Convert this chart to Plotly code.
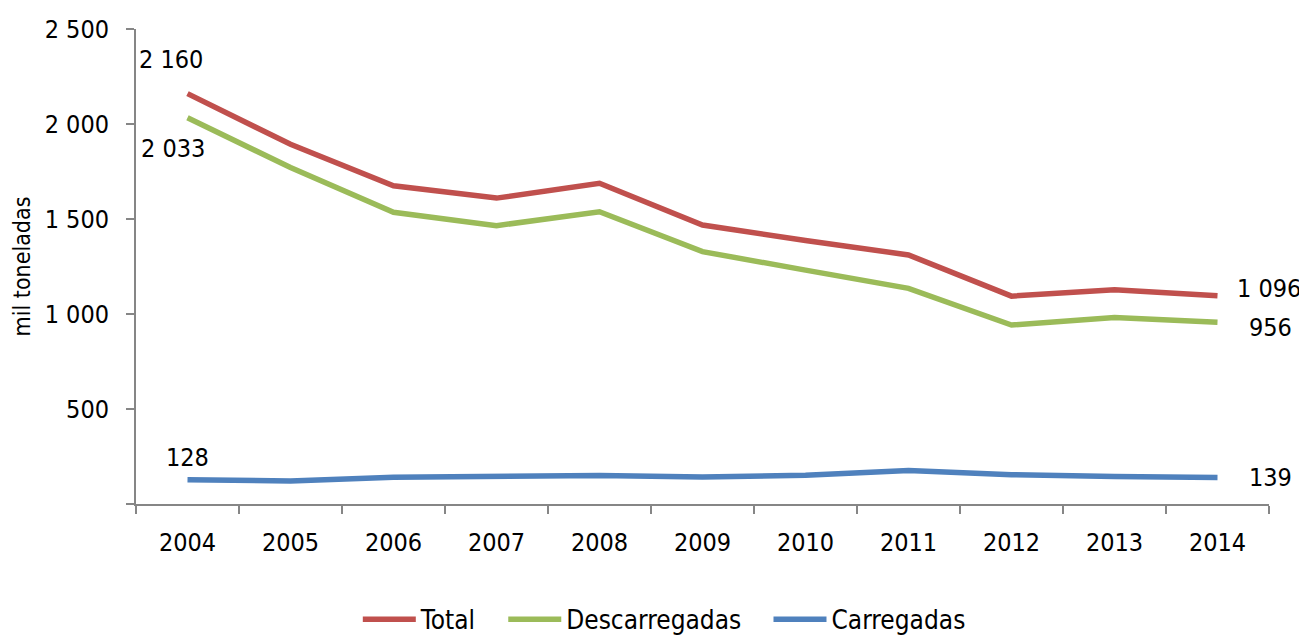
import plotly.graph_objects as go

years = ['2004', '2005', '2006', '2007', '2008', '2009', '2010', '2011', '2012', '2013', '2014']
total = [2160, 1893, 1675, 1610, 1688, 1468, 1387, 1311, 1094, 1127, 1096]
descarregadas = [2033, 1771, 1535, 1465, 1538, 1328, 1231, 1135, 942, 982, 956]
carregadas = [128, 121, 141, 145, 150, 142, 151, 176, 154, 145, 139]

y_ticks = [0, 500, 1000, 1500, 2000, 2500]

FONT = 'DejaVu Sans Condensed, DejaVu Sans, sans-serif'


def fmt(v):
    # thousands separated by a space, like the original
    return f'{v:,}'.replace(',', ' ')


fig = go.Figure()

series = [
    ('Total', total, '#C0504D'),
    ('Descarregadas', descarregadas, '#9BBB59'),
    ('Carregadas', carregadas, '#4F81BD'),
]
for name, vals, col in series:
    fig.add_trace(go.Scatter(
        x=years, y=vals, name=name + '&nbsp;' * 3, mode='lines',
        line=dict(color=col, width=5.5),
    ))

# data labels at first and last year (x given as category index,
# numeric-looking category names get read as indexes by annotations)
first, last = 0, len(years) - 1
labels = [
    (first, total[0], -17, 34),
    (first, descarregadas[0], -15, -31),
    (first, carregadas[0], 0, 22),
    (last, total[-1], 51, 7),
    (last, descarregadas[-1], 53, -5),
    (last, carregadas[-1], 53, 0),
]
for x, y, dx, dy in labels:
    fig.add_annotation(x=x, y=y, xref='x', yref='y', text=fmt(y), showarrow=False,
                       xshift=dx, yshift=dy,
                       font=dict(size=25, color='#000000', family=FONT))

fig.update_layout(
    width=1299, height=627,
    margin=dict(l=128, r=38, t=21, b=131, autoexpand=False),
    paper_bgcolor='white', plot_bgcolor='white',
    font=dict(family=FONT, size=25, color='#000000'),
    showlegend=True,
    legend=dict(orientation='h', x=0.476, xanchor='center', y=-0.243, yanchor='middle',
                font=dict(size=26), tracegroupgap=0, itemwidth=53),
)

fig.update_xaxes(
    type='category', range=[-0.5, len(years) - 0.5], automargin=False,
    showline=True, linecolor='#868686', linewidth=2,
    ticks='outside', tickson='boundaries', ticklen=8, tickcolor='#868686', tickwidth=2,
    ticklabelstandoff=15,
    showgrid=False, zeroline=False, tickfont=dict(size=25),
)
fig.update_yaxes(
    range=[0, 2500], tickvals=y_ticks, automargin=False,
    ticktext=['' if v == 0 else fmt(v) for v in y_ticks],
    showline=True, linecolor='#868686', linewidth=2,
    ticks='outside', ticklen=8, tickcolor='#868686', tickwidth=2,
    ticklabelstandoff=12,
    showgrid=False, zeroline=False, tickfont=dict(size=25),
    title=dict(text='mil toneladas', font=dict(size=23), standoff=8),
)

fig.write_html('out.html')
